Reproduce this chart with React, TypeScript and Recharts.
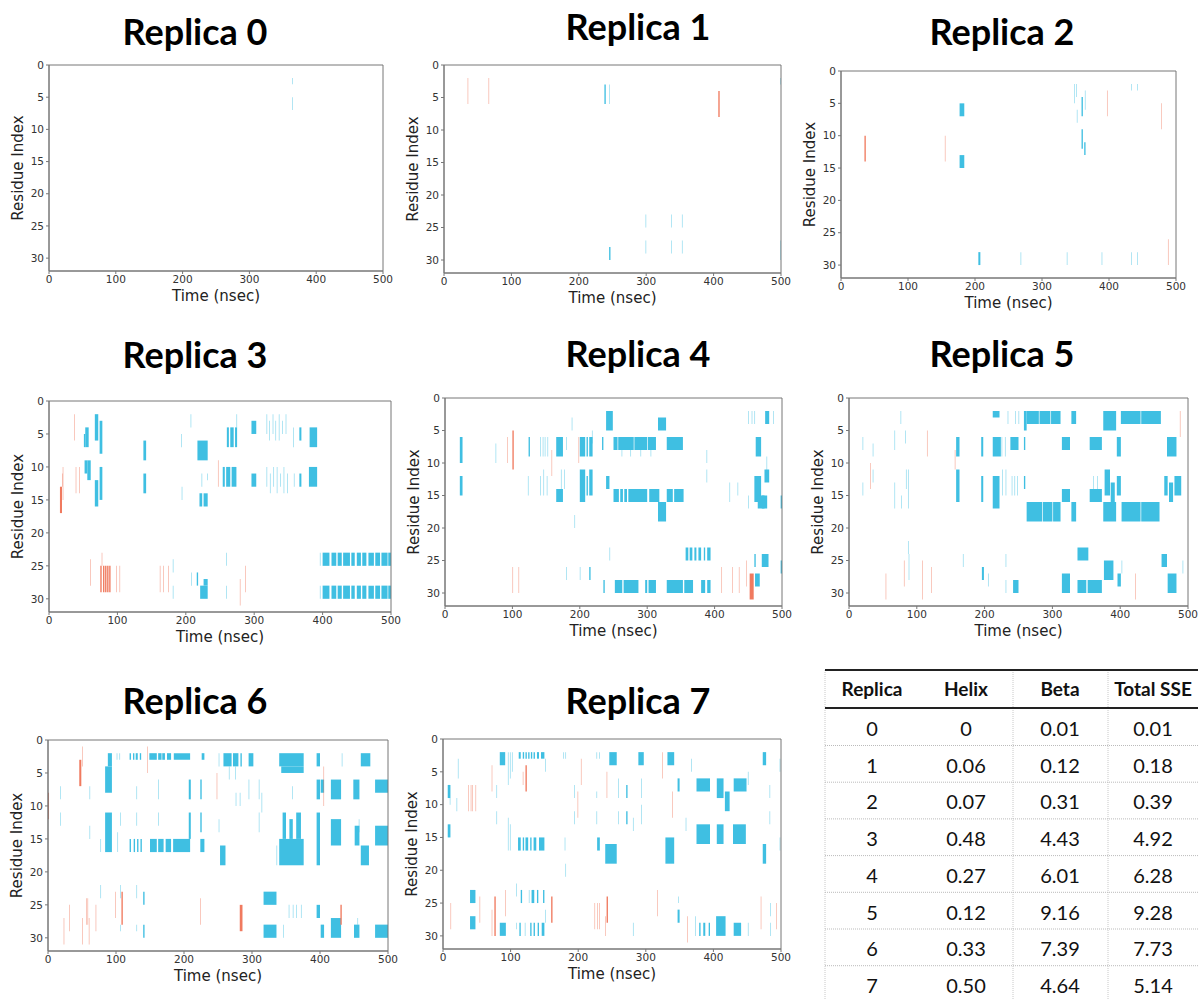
import React from "react"
import { ComposedChart, ReferenceArea, XAxis, YAxis } from "recharts"

// each segment: [timeStart, timeEnd, residueStart, residueEnd]
type Seg = [number, number, number, number]

const timeTicks = [0, 100, 200, 300, 400, 500]
const residueTicks = [0, 5, 10, 15, 20, 25, 30]
const replicaTitles = ["Replica 0", "Replica 1", "Replica 2", "Replica 3", "Replica 4", "Replica 5", "Replica 6", "Replica 7"]

const r0Beta: Seg[] = [[364, 365, 2, 3], [364, 365, 5, 7]]
const r0Helix: Seg[] = []

const r1Beta: Seg[] = [
  [238, 240, 3, 6], [245, 246, 3, 6], [245, 247, 28, 30], [299, 300, 23, 25], [299, 300, 27, 29],
  [337, 338, 23, 25], [337, 338, 27, 29], [353, 354, 23, 25], [353, 354, 27, 29], [499, 500, 27, 30], [499, 500, 2, 3],
]
const r1Helix: Seg[] = [[35, 36, 2, 6], [66, 67, 2, 6], [407, 409, 4, 8]]

const r2Beta: Seg[] = [
  [177, 184, 5, 7], [177, 184, 13, 15], [205, 208, 28, 30], [268, 269, 28, 30], [337, 338, 28, 30],
  [389, 390, 28, 30], [433, 434, 28, 30], [442, 443, 28, 30], [348, 349, 2, 5], [351, 352, 2, 4],
  [352, 353, 6, 8], [359, 361, 4, 7], [364, 365, 3, 6], [359, 361, 9, 12], [363, 365, 11, 13],
  [433, 434, 2, 3], [442, 443, 2, 3],
]
const r2Helix: Seg[] = [[35, 37, 10, 14], [155, 156, 10, 14], [397, 398, 3, 7], [478, 479, 5, 9], [488, 489, 26, 30]]

const r3Beta: Seg[] = [
  [51, 53, 5, 7], [53, 58, 4, 7], [52, 56, 9, 11], [56, 61, 9, 12], [67, 72, 2, 6], [67, 72, 12, 16],
  [74, 78, 3, 8], [74, 78, 10, 15], [138, 142, 6, 9], [138, 142, 11, 14], [193, 194, 5, 7], [194, 195, 13, 15],
  [207, 208, 2, 4], [217, 232, 6, 9], [220, 224, 14, 16], [226, 232, 14, 16], [223, 224, 11, 13], [231, 232, 11, 12],
  [260, 263, 4, 7], [265, 270, 4, 7], [272, 275, 4, 7], [254, 257, 10, 13], [259, 265, 10, 13], [267, 274, 10, 13],
  [274, 275, 2, 4], [296, 303, 3, 5], [296, 303, 11, 13],
  [318, 319, 2, 5], [322, 323, 3, 6], [327, 328, 2, 5], [331, 332, 3, 6], [336, 337, 2, 6], [341, 342, 3, 5], [346, 347, 2, 5],
  [318, 319, 10, 13], [323, 324, 11, 14], [328, 329, 10, 13], [333, 334, 10, 14], [338, 339, 11, 13], [343, 344, 10, 14], [348, 349, 11, 14],
  [357, 358, 4, 7], [366, 369, 4, 6], [358, 359, 11, 13], [366, 369, 11, 13], [381, 392, 4, 7], [380, 392, 10, 13],
  [181, 182, 24, 26], [181, 182, 28, 30], [208, 209, 26, 28], [216, 218, 26, 28], [221, 232, 28, 30], [226, 232, 27, 28],
  [259, 260, 23, 25], [259, 260, 28, 30],
  [396, 397, 23, 25], [400, 410, 23, 25], [413, 420, 23, 25], [422, 428, 23, 25], [430, 440, 23, 25], [442, 447, 23, 25],
  [450, 456, 23, 25], [458, 464, 23, 25], [467, 475, 23, 25], [477, 484, 23, 25], [486, 495, 23, 25], [496, 500, 23, 25],
  [396, 397, 28, 30], [400, 410, 28, 30], [413, 420, 28, 30], [422, 428, 28, 30], [430, 440, 28, 30], [442, 447, 28, 30],
  [450, 456, 28, 30], [458, 464, 28, 30], [467, 475, 28, 30], [477, 484, 28, 30], [486, 495, 28, 30], [496, 500, 28, 30],
]
const r3Helix: Seg[] = [
  [37, 38, 2, 6], [16, 19, 13, 17], [19, 20, 11, 13], [20, 21, 10, 15], [39, 40, 10, 14], [44, 45, 10, 14],
  [60, 61, 24, 28], [75, 77, 25, 29], [77, 78, 23, 25], [79, 81, 25, 29], [82, 84, 25, 29], [85, 87, 25, 29],
  [88, 90, 25, 29], [98, 99, 25, 29], [103, 104, 25, 29], [162, 163, 25, 29], [167, 168, 25, 29], [174, 175, 25, 29],
  [279, 280, 27, 31], [287, 288, 25, 29], [247, 248, 9, 13],
]

const r4Beta: Seg[] = [
  [22, 26, 6, 10], [22, 26, 12, 15], [75, 76, 7, 10], [124, 126, 6, 9], [123, 124, 12, 15],
  [141, 142, 6, 9], [145, 146, 6, 9], [148, 149, 6, 9], [152, 153, 6, 9], [141, 142, 12, 15], [146, 147, 11, 15], [151, 152, 12, 15],
  [165, 175, 6, 9], [165, 175, 14, 16], [172, 173, 11, 14], [177, 178, 11, 14], [180, 181, 6, 8], [188, 189, 3, 5], [192, 193, 18, 20],
  [200, 208, 6, 9], [210, 212, 6, 9], [214, 219, 6, 9], [200, 208, 11, 16], [210, 212, 12, 15], [214, 219, 11, 15], [218, 219, 5, 7],
  [233, 235, 6, 8], [239, 249, 2, 5], [239, 244, 12, 14],
  [250, 256, 6, 8], [257, 280, 6, 8], [281, 300, 6, 8], [301, 313, 6, 8], [262, 263, 8, 9], [275, 276, 8, 9], [290, 291, 8, 9], [305, 306, 8, 9],
  [250, 258, 14, 16], [260, 264, 14, 16], [266, 270, 14, 16], [272, 300, 14, 16], [303, 318, 14, 16],
  [316, 328, 3, 5], [316, 328, 16, 19], [329, 353, 6, 8], [329, 338, 14, 16], [340, 354, 14, 16],
  [357, 361, 23, 25], [363, 367, 23, 25], [370, 373, 23, 25], [376, 380, 23, 25], [384, 386, 23, 25], [389, 394, 23, 25],
  [235, 237, 28, 30], [252, 263, 28, 30], [265, 287, 28, 30], [297, 300, 28, 30], [302, 313, 28, 30], [329, 353, 28, 30],
  [355, 368, 28, 30], [380, 386, 28, 30], [389, 394, 28, 30],
  [180, 181, 26, 28], [200, 201, 26, 28], [214, 216, 26, 28], [244, 245, 23, 25], [388, 389, 8, 10], [388, 389, 11, 13],
  [450, 451, 2, 4], [455, 456, 2, 4], [459, 460, 2, 4], [461, 469, 6, 9], [459, 469, 12, 16], [464, 474, 15, 17],
  [475, 481, 2, 4], [474, 481, 11, 13], [470, 478, 15, 17], [487, 488, 2, 4], [498, 500, 15, 17], [498, 500, 25, 27],
  [459, 461, 24, 26], [470, 480, 24, 26], [460, 467, 27, 29], [422, 423, 13, 16], [434, 435, 13, 15], [450, 451, 15, 17], [477, 478, 9, 12],
]
const r4Helix: Seg[] = [
  [92, 93, 6, 10], [100, 102, 5, 11], [158, 159, 8, 12], [198, 199, 6, 10], [100, 101, 26, 30], [109, 110, 26, 30],
  [410, 411, 26, 30], [426, 427, 26, 30], [436, 437, 26, 30], [447, 448, 25, 29], [452, 458, 27, 31],
]

const r5Beta: Seg[] = [
  [20, 21, 6, 8], [20, 21, 13, 15], [35, 36, 7, 9], [35, 36, 11, 13], [67, 68, 5, 8], [67, 68, 13, 17], [76, 77, 2, 4],
  [83, 84, 5, 7], [84, 85, 11, 14], [87, 88, 22, 24], [88, 89, 24, 28], [87, 88, 11, 17], [77, 78, 15, 17],
  [158, 163, 6, 9], [158, 163, 11, 16], [168, 169, 24, 26], [195, 198, 6, 9], [195, 198, 12, 16], [196, 199, 26, 28], [205, 206, 27, 29],
  [212, 222, 2, 3], [212, 224, 6, 9], [212, 222, 12, 17], [225, 226, 6, 9], [230, 231, 6, 9], [226, 227, 11, 15], [231, 232, 11, 15],
  [231, 232, 24, 26], [231, 232, 28, 30],
  [238, 250, 6, 8], [240, 241, 12, 15], [244, 245, 12, 15], [248, 249, 12, 15], [234, 235, 2, 4], [245, 246, 2, 4], [250, 251, 2, 4], [242, 250, 28, 30],
  [258, 262, 2, 5], [262, 280, 2, 4], [281, 297, 2, 4], [298, 312, 2, 4], [262, 285, 16, 19], [286, 300, 16, 19], [301, 312, 16, 19],
  [258, 260, 6, 8], [258, 260, 12, 14],
  [314, 326, 6, 8], [314, 326, 14, 16], [314, 326, 27, 30], [328, 335, 2, 4], [328, 335, 16, 19],
  [337, 353, 23, 25], [337, 350, 28, 30], [352, 373, 28, 30],
  [355, 373, 6, 8], [355, 373, 14, 16], [360, 361, 12, 14], [366, 367, 12, 14],
  [375, 394, 2, 5], [375, 394, 16, 19], [377, 385, 11, 15], [386, 392, 13, 16], [376, 390, 25, 28],
  [395, 401, 6, 9], [395, 401, 12, 15], [396, 401, 27, 29], [402, 403, 25, 27],
  [401, 430, 2, 4], [431, 460, 2, 4], [402, 430, 16, 19], [431, 458, 16, 19],
  [461, 469, 24, 26], [469, 483, 6, 9], [465, 470, 12, 15], [472, 478, 13, 16], [480, 490, 12, 15], [470, 483, 27, 30], [492, 493, 25, 27],
]
const r5Helix: Seg[] = [
  [54, 55, 27, 31], [81, 82, 25, 29], [108, 109, 25, 31], [121, 122, 26, 30], [115, 116, 5, 9], [156, 157, 8, 11],
  [31, 32, 10, 14], [422, 423, 27, 31], [488, 489, 2, 6],
]

const r6Beta: Seg[] = [
  [18, 19, 7, 9], [18, 19, 11, 13], [61, 62, 7, 9], [61, 62, 13, 15],
  [88, 94, 2, 4], [84, 94, 4, 8], [84, 94, 11, 17], [101, 102, 2, 3], [105, 106, 2, 3], [102, 103, 14, 17], [77, 78, 15, 17],
  [77, 78, 22, 24], [106, 107, 11, 13], [106, 107, 22, 24], [106, 107, 28, 29],
  [120, 122, 2, 3], [125, 127, 2, 3], [129, 132, 2, 3], [135, 137, 2, 3], [120, 122, 15, 17], [126, 128, 15, 17], [131, 133, 15, 17], [136, 138, 15, 17],
  [130, 131, 7, 9], [130, 131, 11, 13], [130, 131, 22, 24], [130, 131, 28, 29], [140, 142, 23, 25], [140, 142, 28, 30],
  [149, 160, 2, 3], [162, 167, 2, 3], [168, 172, 2, 3], [175, 181, 2, 3], [185, 209, 2, 3],
  [150, 160, 15, 17], [162, 170, 15, 17], [173, 181, 15, 17], [184, 209, 15, 17],
  [162, 163, 6, 9], [162, 163, 11, 13], [207, 210, 6, 9], [207, 210, 11, 15],
  [224, 226, 6, 9], [224, 226, 11, 14], [224, 230, 15, 17], [226, 230, 2, 3],
  [251, 252, 2, 4], [251, 252, 12, 14], [253, 261, 16, 19],
  [258, 270, 2, 4], [272, 280, 2, 4], [283, 285, 2, 4], [266, 267, 4, 6], [275, 276, 4, 6], [276, 277, 8, 10], [282, 283, 8, 10],
  [295, 302, 2, 4], [295, 296, 6, 9], [310, 311, 6, 9], [310, 311, 11, 14], [314, 315, 8, 11],
  [317, 336, 23, 25], [317, 336, 28, 30],
  [340, 376, 2, 4], [343, 376, 4, 5], [340, 376, 15, 19], [345, 350, 11, 15], [355, 360, 12, 15], [365, 372, 11, 15],
  [336, 337, 16, 19], [346, 347, 28, 30],
  [354, 355, 25, 27], [360, 361, 25, 27], [365, 366, 25, 27], [372, 373, 25, 27], [359, 360, 7, 9],
  [395, 400, 2, 4], [395, 400, 6, 9], [395, 400, 11, 19], [395, 400, 25, 27], [401, 406, 6, 8], [401, 406, 28, 30],
  [416, 431, 6, 9], [416, 431, 12, 16], [416, 431, 27, 30], [432, 433, 2, 4],
  [449, 458, 6, 9], [451, 458, 13, 16], [450, 458, 28, 30],
  [460, 474, 2, 4], [460, 472, 16, 19], [457, 458, 12, 14], [455, 456, 27, 28],
  [481, 500, 6, 8], [481, 500, 13, 16], [481, 500, 28, 30],
]
const r6Helix: Seg[] = [
  [0, 1.5, 8, 12], [23, 24, 27, 31], [31, 32, 25, 29], [46, 49, 3, 7], [50, 51, 1, 4], [56, 57, 24, 28], [58, 59, 24, 28],
  [50, 51, 27, 31], [60, 61, 27, 31], [70, 71, 25, 29], [99, 100, 23, 27], [108, 110, 23, 28], [146, 147, 1, 5],
  [224, 225, 24, 28], [248, 249, 5, 9], [282, 286, 25, 29], [405, 406, 4, 10], [430, 432, 25, 28],
]

const r7Beta: Seg[] = [
  [7, 11, 7, 9], [7, 11, 13, 15], [10, 11, 9, 10], [22, 23, 3, 6], [20, 21, 9, 11],
  [40, 48, 23, 25], [40, 48, 27, 29], [79, 80, 7, 9], [79, 80, 11, 13],
  [84, 92, 2, 4], [84, 93, 28, 30], [96, 97, 2, 7], [99, 100, 2, 6], [102, 103, 2, 5], [96, 97, 12, 17], [99, 100, 13, 17],
  [108, 109, 22, 24], [108, 109, 28, 29],
  [112, 115, 2, 3], [118, 120, 2, 3], [122, 124, 2, 3], [126, 128, 2, 3], [130, 132, 2, 3], [134, 136, 2, 3], [139, 142, 2, 3], [145, 150, 2, 3],
  [111, 115, 15, 17], [118, 120, 15, 17], [122, 126, 15, 17], [129, 131, 15, 17], [134, 138, 15, 17], [142, 150, 15, 17],
  [115, 117, 23, 25], [127, 128, 23, 25], [131, 135, 23, 25], [139, 141, 23, 25], [148, 150, 23, 25],
  [113, 115, 28, 30], [121, 122, 28, 30], [129, 131, 28, 30], [134, 136, 28, 30], [140, 142, 28, 30], [146, 150, 28, 30],
  [151, 152, 3, 5], [151, 152, 26, 28],
  [178, 179, 2, 3], [181, 182, 2, 3], [180, 181, 15, 17], [181, 182, 19, 21],
  [194, 195, 7, 9], [194, 195, 11, 13],
  [227, 228, 2, 3], [231, 232, 2, 3], [227, 228, 8, 9], [227, 228, 11, 13], [228, 232, 15, 17],
  [240, 257, 16, 19], [246, 257, 2, 4], [259, 260, 6, 9], [259, 260, 11, 13], [271, 273, 7, 9], [271, 273, 11, 13],
  [281, 282, 12, 14], [281, 282, 28, 30],
  [289, 297, 2, 4], [293, 294, 6, 9], [293, 294, 10, 13],
  [332, 342, 2, 4], [329, 342, 15, 19], [347, 350, 6, 8], [348, 349, 24, 25], [347, 350, 26, 28], [359, 360, 12, 14],
  [367, 368, 3, 5], [373, 374, 27, 30],
  [375, 395, 6, 8], [375, 395, 13, 16], [379, 381, 28, 30], [385, 388, 28, 30], [393, 395, 28, 30],
  [405, 415, 6, 9], [405, 415, 13, 16], [404, 418, 27, 30], [417, 424, 8, 11],
  [430, 449, 6, 8], [429, 448, 13, 16], [430, 441, 28, 30], [451, 452, 28, 30], [451, 452, 5, 7],
  [473, 478, 2, 4], [473, 478, 16, 19], [483, 484, 7, 9], [483, 484, 11, 13], [484, 485, 25, 27], [484, 485, 28, 30],
  [498, 499, 3, 5], [498, 499, 15, 17],
]
const r7Helix: Seg[] = [
  [11, 12, 25, 29], [37, 38, 7, 11], [41, 42, 7, 11], [43, 44, 7, 11], [48, 49, 7, 11], [54, 55, 24, 28],
  [72, 73, 4, 8], [72, 73, 26, 30], [76, 78, 24, 30], [92, 93, 23, 27], [122, 124, 4, 8], [118, 119, 5, 7],
  [160, 162, 24, 28], [199, 200, 8, 12], [204, 205, 3, 7], [224, 225, 25, 29], [228, 229, 25, 29], [231, 232, 25, 29],
  [242, 243, 5, 9], [242, 244, 24, 28], [240, 241, 27, 30], [317, 318, 23, 27], [324, 325, 2, 6], [339, 340, 8, 12],
  [361, 362, 27, 31], [470, 471, 24, 29], [493, 494, 25, 29],
]

const betaSets = [r0Beta, r1Beta, r2Beta, r3Beta, r4Beta, r5Beta, r6Beta, r7Beta]
const helixSets = [r0Helix, r1Helix, r2Helix, r3Helix, r4Helix, r5Helix, r6Helix, r7Helix]

// summary table
const tableHeader = ["Replica", "Helix", "Beta", "Total SSE"]
const tableReplicas = ["0", "1", "2", "3", "4", "5", "6", "7"]
const helixFrac = ["0", "0.06", "0.07", "0.48", "0.27", "0.12", "0.33", "0.50"]
const betaFrac = ["0.01", "0.12", "0.31", "4.43", "6.01", "9.16", "7.39", "4.64"]
const totalSse = ["0.01", "0.18", "0.39", "4.92", "6.28", "9.28", "7.73", "5.14"]

// layout: plot rectangle and title anchor for each panel
const panelBoxes = [
  { x: 49, y: 65, w: 334, h: 206, tx: 195, ty: 45 },
  { x: 444, y: 65, w: 337, h: 208, tx: 638, ty: 40 },
  { x: 841, y: 71, w: 335, h: 207, tx: 1002, ty: 45 },
  { x: 49, y: 401, w: 342, h: 211, tx: 195, ty: 368 },
  { x: 445, y: 398, w: 337, h: 208, tx: 638, ty: 367 },
  { x: 849, y: 398, w: 339, h: 208, tx: 1002, ty: 367 },
  { x: 48, y: 740, w: 340, h: 211, tx: 195, ty: 714 },
  { x: 443, y: 739, w: 338, h: 210, tx: 638, ty: 714 },
]

const BLUE = "#3fbfe2"
const RED = "#f07a5f"
const AXIS = "#777"
const YW = 48
const XH = 40
const TM = 10
const RM = 10
const FONT = "DejaVu Sans"

const tickStyle = { fontSize: 10.5, fill: "#333", fontFamily: FONT }

// single-frame lines look paler than the dense blocks in the original
const segOpacity = (s: Seg) => (s[1] - s[0] <= 1 ? 0.6 : 1)

function SsePanel({ idx }: { idx: number }) {
  const b = panelBoxes[idx]
  const segs = [...betaSets[idx], ...helixSets[idx]]
  const pts = segs.length ? segs.map((s) => ({ t: s[0], r: s[2] })) : [{ t: 0, r: 0 }]
  return (
    <>
      <svg style={{ position: "absolute", left: b.tx - 130, top: b.ty - 40 }} width={260} height={52}>
        <text x={130} y={40} textAnchor="middle" fontFamily="Lato" fontWeight={700} fontSize={36} fill="#000">
          {replicaTitles[idx]}
        </text>
      </svg>
      <div style={{ position: "absolute", left: b.x - YW, top: b.y - TM, fontFamily: FONT }}>
        <ComposedChart
          width={b.w + YW + RM}
          height={b.h + TM + XH}
          data={pts}
          margin={{ top: TM, right: RM, left: 0, bottom: 0 }}
        >
          <XAxis
            dataKey="t"
            type="number"
            domain={[0, 500]}
            ticks={timeTicks}
            interval={0}
            allowDataOverflow
            height={XH}
            tick={tickStyle}
            tickSize={3}
            tickMargin={2}
            axisLine={{ stroke: AXIS }}
            tickLine={{ stroke: AXIS }}
            label={{ value: "Time (nsec)", position: "insideBottom", offset: 10, fontSize: 15, fill: "#222", fontFamily: FONT }}
          />
          <YAxis
            dataKey="r"
            type="number"
            domain={[0, 32]}
            reversed
            ticks={residueTicks}
            interval={0}
            allowDataOverflow
            width={YW}
            tick={tickStyle}
            tickSize={3}
            tickMargin={2}
            axisLine={{ stroke: AXIS }}
            tickLine={{ stroke: AXIS }}
            label={{
              value: "Residue Index",
              angle: -90,
              position: "insideLeft",
              offset: 17,
              fontSize: 15,
              fill: "#222",
              fontFamily: FONT,
              style: { textAnchor: "middle" },
            }}
          />
          {betaSets[idx].map((s, i) => (
            <ReferenceArea
              key={`b-${i}`}
              x1={s[0]}
              x2={s[1]}
              y1={s[2]}
              y2={s[3]}
              fill={BLUE}
              fillOpacity={segOpacity(s)}
              stroke="none"
              ifOverflow="hidden"
            />
          ))}
          {helixSets[idx].map((s, i) => (
            <ReferenceArea
              key={`h-${i}`}
              x1={s[0]}
              x2={s[1]}
              y1={s[2]}
              y2={s[3]}
              fill={RED}
              fillOpacity={segOpacity(s)}
              stroke="none"
              ifOverflow="hidden"
            />
          ))}
          <ReferenceArea x1={0} x2={500} y1={0} y2={32} fill="none" fillOpacity={0} stroke={AXIS} strokeWidth={1} ifOverflow="visible" />
        </ComposedChart>
      </div>
    </>
  )
}

function SummaryTable() {
  const colX = [72, 166, 260, 353]
  const rowY = (i: number) => 76 + i * 36.7
  const cols = [tableReplicas, helixFrac, betaFrac, totalSse]
  return (
    <svg style={{ position: "absolute", left: 800, top: 660 }} width={398} height={339}>
      {[25, 213, 308].map((x) => (
        <line key={`v-${x}`} x1={x} x2={x} y1={10} y2={339} stroke="#c8c8c8" strokeDasharray="1 1" />
      ))}
      {tableReplicas.slice(1).map((_, i) => (
        <line key={`r-${i}`} x1={25} x2={398} y1={rowY(i) + 9.5} y2={rowY(i) + 9.5} stroke="#bbb" strokeDasharray="1 1" />
      ))}
      <line x1={25} x2={398} y1={10} y2={10} stroke="#222" strokeWidth={2} />
      <line x1={25} x2={398} y1={48} y2={48} stroke="#222" strokeWidth={2} />
      {tableHeader.map((h, i) => (
        <text key={h} x={colX[i]} y={36} textAnchor="middle" fontFamily="Lato" fontWeight={700} fontSize={19} fill="#111">
          {h}
        </text>
      ))}
      {cols.map((col, c) =>
        col.map((v, r) => (
          <text key={`${c}-${r}`} x={colX[c]} y={rowY(r)} textAnchor="middle" fontFamily="Lato" fontSize={20} fill="#111">
            {v}
          </text>
        ))
      )}
    </svg>
  )
}

export default function App() {
  return (
    <div style={{ position: "absolute", left: 0, top: 0, width: 1198, height: 999, background: "#fff", overflow: "hidden" }}>
      {panelBoxes.map((_, i) => (
        <SsePanel key={i} idx={i} />
      ))}
      <SummaryTable />
    </div>
  )
}
